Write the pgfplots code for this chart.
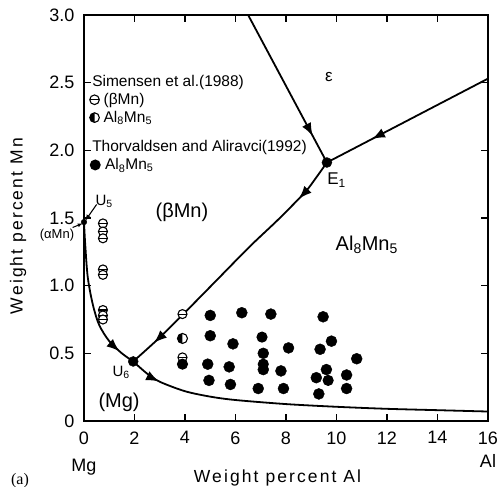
\documentclass[border=0pt]{standalone}
\usepackage{fontspec}
\setmainfont{Liberation Sans}
\newfontfamily\labelfont[LetterSpace=12]{Liberation Sans}
\newfontfamily\seriffont{Liberation Serif}
\usepackage{pgfplots}
\pgfplotsset{compat=1.18}
\usetikzlibrary{arrows.meta,decorations.markings}

% circle with a horizontal bar (beta-Mn points)
\pgfdeclareplotmark{ominus}{%
  \pgfpathcircle{\pgfpointorigin}{\pgfplotmarksize}\pgfusepathqfillstroke
  \pgfpathmoveto{\pgfqpoint{-\pgfplotmarksize}{0pt}}%
  \pgfpathlineto{\pgfqpoint{\pgfplotmarksize}{0pt}}\pgfusepathqstroke}
% circle with left half filled (Al8Mn5, Simensen)
\pgfdeclareplotmark{lhalf}{%
  \pgfpathcircle{\pgfpointorigin}{\pgfplotmarksize}\pgfusepathqfillstroke
  \pgfsetfillcolor{black}%
  \pgfpathmoveto{\pgfqpoint{0pt}{\pgfplotmarksize}}%
  \pgfpatharc{90}{270}{\pgfplotmarksize}%
  \pgfpathclose\pgfusepathqfill}

\tikzset{
  tip/.tip={Latex[length=13pt,width=10pt]},
  arr/.style={postaction={decorate},decoration={markings,mark=at position #1 with {\arrow{tip}}}},
  arrtwo/.style 2 args={postaction={decorate},decoration={markings,
     mark=at position #1 with {\arrow{tip}},mark=at position #2 with {\arrow{tip}}}},
}
\newcommand{\lbl}{\fontsize{20}{22}\selectfont}
\newcommand{\leg}{\fontsize{15.5}{18}\selectfont}
\newcommand{\symb}[1]{\tikz[baseline=-0.55ex]{\pgfsetlinewidth{1.1pt}\pgfsetfillcolor{white}\pgfsetplotmarksize{4.8pt}\pgfuseplotmark{#1}}}

\begin{document}
\begin{tikzpicture}
\begin{axis}[
  scale only axis, width=404pt, height=406pt,
  xmin=0, xmax=16, ymin=0, ymax=3,
  xtick={0,2,...,16}, xticklabels={0,2,4,6,8,10,12,14,16},
  ytick={0,0.5,1,1.5,2,2.5,3}, yticklabels={0,0.5,1.0,1.5,2.0,2.5,3.0},
  tick label style={font=\fontsize{18}{20}\selectfont},
  xticklabel style={yshift=-7pt},
  yticklabel style={xshift=-6pt},
  major tick length=7pt,
  every tick/.style={black,line width=1.2pt},
  axis line style={line width=1.6pt},
  clip=false,
]
% phase boundaries
\addplot[black,line width=1.8pt,no markers,arr=0.82] coordinates {(6.5,3.0) (9.62,1.91)};
\addplot[black,line width=1.8pt,no markers,arr=0.72] coordinates {(16,2.53) (9.62,1.91)};
\addplot[black,line width=1.8pt,no markers,smooth,arrtwo={0.165}{0.90}] coordinates {
  (9.62,1.91) (9.2,1.80) (8.75,1.69) (7.7,1.49) (6.57,1.29) (5.2,1.03) (3.88,0.78) (2.9,0.6) (1.95,0.44)};
\addplot[black,line width=1.8pt,no markers,smooth,arr=0.89] coordinates {
  (0,1.47) (0.05,1.3) (0.15,1.06) (0.35,0.86) (0.6,0.71) (1.0,0.59) (1.5,0.5) (1.95,0.44)};
\addplot[black,line width=1.8pt,no markers,smooth,arr=0.09] coordinates {
  (1.95,0.44) (2.5,0.35) (3,0.29) (4,0.22) (5,0.18) (6,0.155) (8,0.125) (10,0.105) (12,0.09) (14,0.08) (16,0.07)};

% Thorvaldsen and Aliravci (1992), Al8Mn5
\addplot[only marks,mark=*,mark size=5.5pt,black] coordinates {
  (5.0,0.78) (6.25,0.80) (7.4,0.79) (9.47,0.77) (5.0,0.63) (5.9,0.57) (7.1,0.50) (8.1,0.54)
  (9.35,0.53) (9.8,0.59) (10.8,0.46) (4.9,0.42) (5.75,0.40) (7.1,0.38) (7.8,0.37) (9.6,0.38)
  (9.2,0.32) (10.4,0.34) (4.95,0.30) (5.8,0.27) (6.9,0.24) (7.9,0.24) (9.3,0.20) (10.4,0.24)};
% Simensen et al. (1988), beta-Mn
\addplot[only marks,mark=ominus,mark size=4.5pt,mark options={fill=white,line width=1.1pt}] coordinates {
  (0.75,1.46) (0.75,1.40) (0.75,1.35) (0.75,1.12) (0.75,1.08) (0.75,0.82) (0.75,0.78) (0.75,0.75)
  (3.9,0.79) (3.9,0.47)};
% Simensen et al. (1988), Al8Mn5
\addplot[only marks,mark=lhalf,mark size=5pt,mark options={fill=white,line width=1.1pt}] coordinates {
  (3.9,0.61) (3.9,0.42) (7.05,0.62) (7.1,0.42) (9.67,0.30)};
% invariant points
\addplot[only marks,mark=*,mark size=5pt,black] coordinates {(9.62,1.91) (1.95,0.44)};
\addplot[only marks,mark=*,mark size=2.8pt,black] coordinates {(0,1.47)};

% leaders at U5
\draw[line width=1.1pt,-{Latex[length=6pt,width=5pt]}] (axis cs:0.5,1.6) -- (axis cs:0.05,1.48);
\draw[line width=1pt,-{Latex[length=5pt,width=4pt]}] (axis cs:-0.45,1.43) -- (axis cs:-0.05,1.46);

% region and point labels
\node[font=\fontsize{17}{20}\selectfont] at (axis cs:9.7,2.54) {ε};
\node[font=\lbl] at (axis cs:3.88,1.54) {(βMn)};
\node[font=\lbl] at (axis cs:11.2,1.30) {Al\textsubscript{8}Mn\textsubscript{5}};
\node[font=\lbl] at (axis cs:1.39,0.14) {(Mg)};
\node[font=\fontsize{17}{20}\selectfont] at (axis cs:10.0,1.78) {E\textsubscript{1}};
\node[font=\fontsize{15}{18}\selectfont] at (axis cs:1.47,0.36) {U\textsubscript{6}};
\node[font=\fontsize{15}{18}\selectfont] at (axis cs:0.8,1.62) {U\textsubscript{5}};
\node[font=\fontsize{13}{15}\selectfont] at (axis cs:-1.07,1.37) {(αMn)};

% legend
\node[font=\leg,anchor=west,inner sep=0pt] at (axis cs:0.32,2.50) {Simensen et al.(1988)};
\node[font=\leg,anchor=west,inner sep=0pt] at (axis cs:0.22,2.37) {\symb{ominus} (βMn)};
\node[font=\leg,anchor=west,inner sep=0pt] at (axis cs:0.22,2.24) {\symb{lhalf} Al\textsubscript{8}Mn\textsubscript{5}};
\node[font=\leg,anchor=west,inner sep=0pt] at (axis cs:0.32,2.02) {Thorvaldsen and Aliravci(1992)};
\node[font=\leg,anchor=west,inner sep=0pt] at (axis cs:0.22,1.89) {\tikz[baseline=-0.55ex]\fill (0,0) circle (5.5pt); Al\textsubscript{8}Mn\textsubscript{5}};

% axis titles
\node[font=\labelfont\fontsize{17.5}{20}\selectfont] at ([yshift=-57pt]rel axis cs:0.479,0) {Weight percent Al};
\node[font=\labelfont\fontsize{17.5}{20}\selectfont,rotate=90] at ([xshift=-66pt]axis cs:0,1.44) {Weight percent Mn};
\node[font=\fontsize{18}{20}\selectfont] at ([yshift=-46pt]axis cs:0,0) {Mg};
\node[font=\fontsize{18}{20}\selectfont] at ([yshift=-40pt]axis cs:16,0) {Al};
\node[font=\seriffont\fontsize{16}{18}\selectfont] at ([xshift=-64pt,yshift=-60pt]axis cs:0,0) {(a)};

\coordinate (bl) at (rel axis cs:0,0);
\coordinate (tr) at (rel axis cs:1,1);
\end{axis}
\pgfresetboundingbox
\path ([shift={(-84pt,-66pt)}]bl) rectangle ([shift={(13pt,15pt)}]tr);
\end{tikzpicture}
\end{document}
